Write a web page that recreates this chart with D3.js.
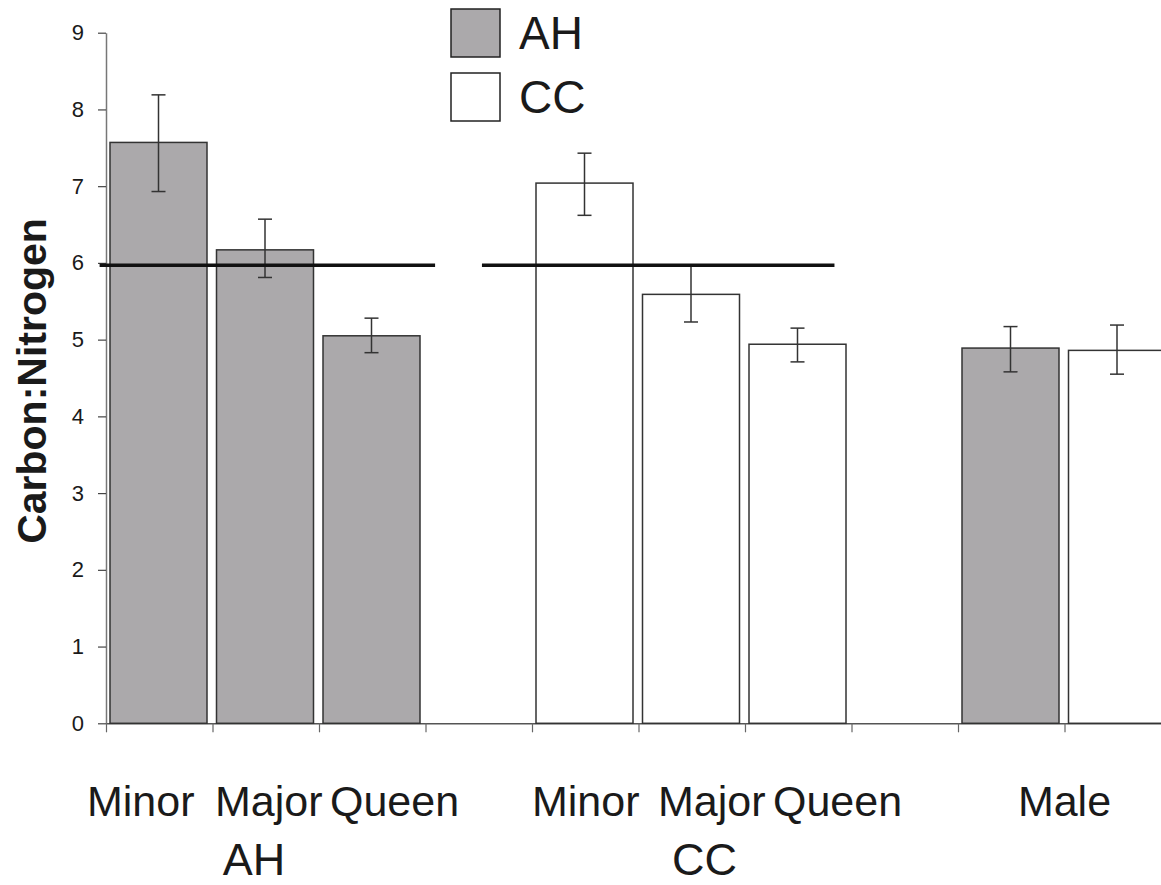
<!DOCTYPE html>
<html><head><meta charset="utf-8">
<script src="https://cdn.jsdelivr.net/npm/d3@7"></script>
<style>
html,body{margin:0;padding:0;background:#fff;}
svg{display:block;}
text{font-family:Arial,"Liberation Sans",sans-serif;fill:#1a1a1a;}
</style></head>
<body>
<svg id="chart" width="1161" height="885"></svg>
<script>
// ---- data ----
const slots = ["AH Minor","AH Major","AH Queen","","CC Minor","CC Major","CC Queen","","Male AH","Male CC"];
const barSlots = [0,1,2,4,5,6,8,9];
const barSeries = ["AH","AH","AH","CC","CC","CC","AH","CC"];
const barValues = [7.57,6.17,5.05,7.04,5.59,4.94,4.89,4.86];
const errHigh   = [8.19,6.57,5.28,7.43,5.96,5.15,5.17,5.19];
const errLow    = [6.93,5.81,4.83,6.62,5.23,4.71,4.58,4.55];
const yTicks = [0,1,2,3,4,5,6,7,8,9];
const catLabels = ["Minor","Major","Queen","Minor","Major","Queen","Male"];
const catLabelSlots = [0,1,2,4,5,6,9];
const groupLabels = ["AH","CC"];
const legendNames = ["AH","CC"];
const refValue = 5.97;
const refLines = [[-0.06,3.09],[3.53,6.84]]; // in slot units
const yTitle = "Carbon:Nitrogen";

// ---- styling ----
const colors = {AH:"#aba9ab", CC:"#ffffff"};
const svg = d3.select("#chart");
const x = d3.scaleLinear().domain([0,slots.length]).range([106,1171]);
const y = d3.scaleLinear().domain([0,9]).range([723.3,32.7]);
const step = x(1)-x(0);

// y axis
const yAxis = svg.append("g").attr("transform","translate(106,0)")
  .call(d3.axisLeft(y).tickValues(yTicks).tickSize(8).tickPadding(14).tickSizeOuter(0));
yAxis.select(".domain").attr("stroke","#777").attr("stroke-width",1.5);
yAxis.selectAll(".tick line").attr("stroke","#444").attr("stroke-width",1.2);
yAxis.selectAll(".tick text").attr("font-size",22).attr("fill","#1a1a1a")
  .attr("font-family","Arial, 'Liberation Sans', sans-serif");

// x axis
const xAxis = svg.append("g").attr("transform","translate(0,723.3)")
  .call(d3.axisBottom(x).tickValues(d3.range(0,slots.length+1)).tickSize(9).tickFormat("").tickSizeOuter(0));
xAxis.select(".domain").attr("stroke","#555").attr("stroke-width",1.5);
xAxis.selectAll(".tick line").attr("stroke","#666").attr("stroke-width",1.2);

// bars
svg.append("g").selectAll("rect").data(barValues).join("rect")
  .attr("x",(d,i)=>x(barSlots[i])+4)
  .attr("width",step-9.5)
  .attr("y",d=>y(d))
  .attr("height",d=>y(0)-y(d))
  .attr("fill",(d,i)=>colors[barSeries[i]])
  .attr("stroke","#333").attr("stroke-width",1.5);

// error bars
const eb = svg.append("g").attr("stroke","#333").attr("stroke-width",1.5);
barValues.forEach((v,i)=>{
  const cx = x(barSlots[i])+4+(step-9.5)/2;
  eb.append("line").attr("x1",cx).attr("x2",cx).attr("y1",y(errLow[i])).attr("y2",y(errHigh[i]));
  eb.append("line").attr("x1",cx-7).attr("x2",cx+7).attr("y1",y(errLow[i])).attr("y2",y(errLow[i]));
  eb.append("line").attr("x1",cx-7).attr("x2",cx+7).attr("y1",y(errHigh[i])).attr("y2",y(errHigh[i]));
});

// reference lines
svg.append("g").selectAll("line").data(refLines).join("line")
  .attr("x1",d=>x(d[0])).attr("x2",d=>x(d[1]))
  .attr("y1",y(refValue)).attr("y2",y(refValue))
  .attr("stroke","#111").attr("stroke-width",3.5);

// category labels
const catDx = [-19,2.5,11,0,19.5,28,0];
svg.append("g").selectAll("text").data(catLabels).join("text")
  .attr("x",(d,i)=>x(catLabelSlots[i])+catDx[i])
  .attr("y",816)
  .attr("text-anchor",(d,i)=>catLabels[i]==="Male"?"middle":"start")
  .attr("font-size",43)
  .text(d=>d);

// group labels
const groupCenters = [1.39,5.62];
svg.append("g").selectAll("text").data(groupLabels).join("text")
  .attr("x",(d,i)=>x(groupCenters[i]))
  .attr("y",875)
  .attr("text-anchor","middle")
  .attr("font-size",45)
  .text(d=>d);

// y title
svg.append("text")
  .attr("transform","translate(46,381) rotate(-90)")
  .attr("text-anchor","middle")
  .attr("font-size",41).attr("font-weight","bold")
  .text(yTitle);

// legend
const lg = svg.append("g").attr("transform","translate(451,9)");
legendNames.forEach((n,i)=>{
  lg.append("rect").attr("x",0).attr("y",i*64).attr("width",49).attr("height",48)
    .attr("fill",colors[n]).attr("stroke","#222").attr("stroke-width",1.5);
  lg.append("text").attr("x",68).attr("y",i*64+40).attr("font-size",46).text(n);
});
</script>
</body></html>
